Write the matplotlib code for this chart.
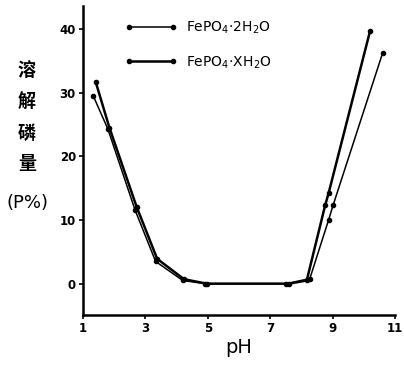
import matplotlib
matplotlib.use('Agg')
import matplotlib.pyplot as plt

plt.rcParams['font.family'] = ['Noto Sans CJK SC', 'DejaVu Sans']

# FePO4·2H2O (linha fina)
ph_2h2o = [1.34, 1.8, 2.67, 3.33, 4.2, 4.92, 7.52, 8.27, 8.87, 9.02, 10.6]
p_2h2o = [29.4, 24.3, 11.6, 3.5, 0.5, 0.0, 0.0, 0.8, 10.0, 12.4, 36.2]

# FePO4·XH2O (linha grossa)
ph_xh2o = [1.41, 1.85, 2.72, 3.38, 4.24, 4.97, 7.6, 8.17, 8.76, 8.87, 10.2]
p_xh2o = [31.7, 24.5, 12.1, 3.9, 0.7, 0.0, 0.0, 0.5, 12.3, 14.2, 39.7]

xticks = [1, 3, 5, 7, 9, 11]
yticks = [0, 10, 20, 30, 40]

fig = plt.figure(figsize=(4.04, 3.67), dpi=100)
ax = fig.add_axes([0.205, 0.142, 0.773, 0.842])

ax.plot(ph_2h2o, p_2h2o, color='black', lw=1.1, marker='o', ms=3,
        label='FePO$_4$·2H$_2$O')
ax.plot(ph_xh2o, p_xh2o, color='black', lw=1.8, marker='o', ms=3,
        label='FePO$_4$·XH$_2$O')

ax.set_xlim(1, 11)
ax.set_ylim(-4.9, 43.6)
ax.set_xticks(xticks)
ax.set_yticks(yticks)
ax.tick_params(labelsize=8.5, width=1.2, length=3, pad=2)
for t in ax.get_xticklabels() + ax.get_yticklabels():
    t.set_fontweight('bold')
    t.set_family('DejaVu Sans')

for s in ['top', 'right']:
    ax.spines[s].set_visible(False)
for s in ['left', 'bottom']:
    ax.spines[s].set_linewidth(1.8)

ax.set_xlabel('pH', fontsize=14, family='DejaVu Sans', labelpad=2)

leg = ax.legend(loc='upper left', bbox_to_anchor=(0.09, 1.0), frameon=False,
                numpoints=2, handlelength=3.8, handletextpad=0.6,
                labelspacing=1.3, borderaxespad=0.6,
                prop={'family': 'DejaVu Sans', 'size': 10})

# rótulo vertical do eixo y
for ch, yp in zip(['溶', '解', '磷', '量'], [70, 102, 133, 164]):
    fig.text(27 / 404, 1 - yp / 367, ch, fontsize=13, fontweight='heavy',
             ha='center', va='center')
fig.text(27 / 404, 1 - 203 / 367, '(P%)', fontsize=13, family='DejaVu Sans',
         ha='center', va='center')

fig.savefig('out.png', dpi=100)
